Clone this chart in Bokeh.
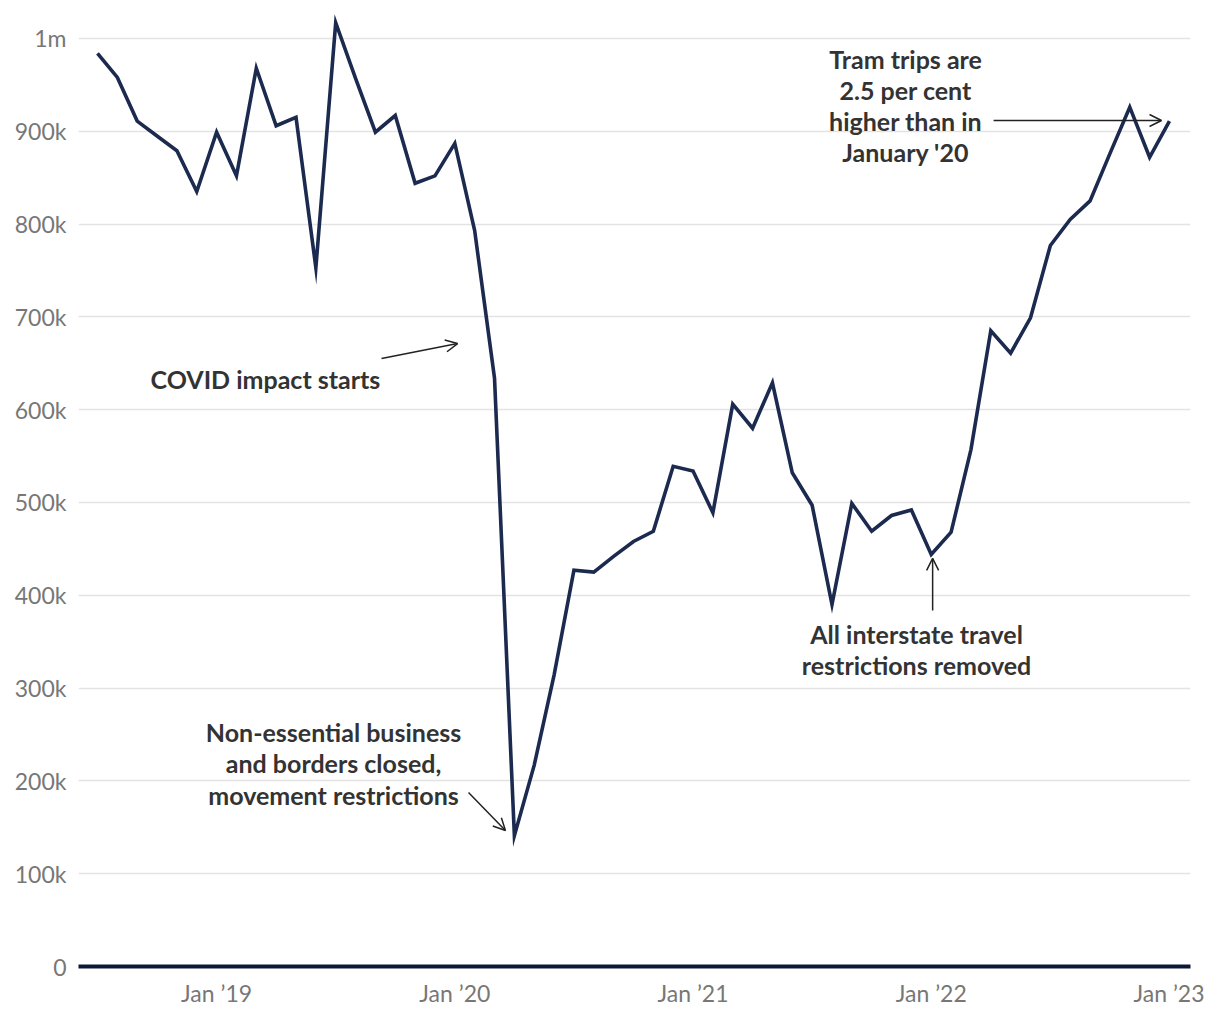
from bokeh.plotting import figure
from bokeh.models import FixedTicker, Arrow, OpenHead
from bokeh.core.properties import value
from bokeh.embed import file_html
from bokeh.resources import INLINE

# Monthly tram trips, Jul 2018 - Jan 2023
months = ["Jul 2018", "Aug 2018", "Sep 2018", "Oct 2018", "Nov 2018", "Dec 2018",
          "Jan 2019", "Feb 2019", "Mar 2019", "Apr 2019", "May 2019", "Jun 2019",
          "Jul 2019", "Aug 2019", "Sep 2019", "Oct 2019", "Nov 2019", "Dec 2019",
          "Jan 2020", "Feb 2020", "Mar 2020", "Apr 2020", "May 2020", "Jun 2020",
          "Jul 2020", "Aug 2020", "Sep 2020", "Oct 2020", "Nov 2020", "Dec 2020",
          "Jan 2021", "Feb 2021", "Mar 2021", "Apr 2021", "May 2021", "Jun 2021",
          "Jul 2021", "Aug 2021", "Sep 2021", "Oct 2021", "Nov 2021", "Dec 2021",
          "Jan 2022", "Feb 2022", "Mar 2022", "Apr 2022", "May 2022", "Jun 2022",
          "Jul 2022", "Aug 2022", "Sep 2022", "Oct 2022", "Nov 2022", "Dec 2022",
          "Jan 2023"]
trips = [984000, 958000, 911000, 895000, 879000, 835000,
         899000, 852000, 968000, 906000, 915000, 753000,
         1017000, 957000, 899000, 917000, 844000, 852000,
         887000, 793000, 634000, 141000, 217000, 314000,
         427000, 425000, 442000, 458000, 469000, 539000,
         534000, 489000, 606000, 580000, 629000, 532000,
         497000, 390000, 499000, 469000, 486000, 492000,
         444000, 468000, 557000, 685000, 661000, 699000,
         777000, 805000, 825000, 876000, 926000, 872000,
         911000]

x_tick_pos = [6, 18, 30, 42, 54]
x_tick_labels = ["Jan \u201919", "Jan \u201920", "Jan \u201921", "Jan \u201922", "Jan \u201923"]
y_ticks = [0, 100000, 200000, 300000, 400000, 500000, 600000, 700000, 800000, 900000, 1000000]
y_tick_labels = ["0", "100k", "200k", "300k", "400k", "500k", "600k", "700k", "800k", "900k", "1m"]

xs = list(range(len(months)))

p = figure(width=1204, height=1013, output_backend="svg", toolbar_location=None,
           x_range=(-0.957, 55.06), y_range=(0, 1030172),
           min_border_left=78, min_border_right=14, min_border_top=10, min_border_bottom=47)
p.outline_line_color = None
p.background_fill_color = "white"

p.line(xs, trips, line_color="#1b2a4e", line_width=3.6, line_join="miter")

# axes
p.xaxis.ticker = FixedTicker(ticks=x_tick_pos)
p.xaxis.major_label_overrides = {t: l for t, l in zip(x_tick_pos, x_tick_labels)}
p.yaxis.ticker = FixedTicker(ticks=y_ticks)
p.yaxis.major_label_overrides = {t: l for t, l in zip(y_ticks, y_tick_labels)}
for ax in (p.xaxis, p.yaxis):
    ax.major_tick_line_color = None
    ax.minor_tick_line_color = None
    ax.major_tick_out = 0
    ax.major_tick_in = 0
    ax.major_label_text_font = "Lato"
    ax.major_label_text_font_size = "23px"
    ax.major_label_text_color = "#777777"
p.yaxis.axis_line_color = None
p.yaxis.major_label_standoff = 12
p.xaxis.axis_line_color = "#0d1836"
p.xaxis.axis_line_width = 4
p.xaxis.major_label_standoff = 12

p.xgrid.grid_line_color = None
p.ygrid.ticker = FixedTicker(ticks=y_ticks[1:])
p.ygrid.grid_line_color = "#e3e3e3"
p.ygrid.grid_line_width = 1.5

# annotations
ann_font = value("Lato")
def label(x, y, txt):
    p.text(x=[x], y=[y], text=[txt], text_align="center", text_baseline="middle",
           text_font=ann_font, text_font_style="bold", text_font_size="25px",
           text_color="#333333")

label(8.46, 633600, "COVID impact starts")
label(11.89, 252200, "Non-essential business")
label(11.89, 218800, "and borders closed,")
label(11.89, 185300, "movement restrictions")
label(41.26, 357800, "All interstate travel")
label(41.26, 324400, "restrictions removed")
label(40.71, 978400, "Tram trips are")
label(40.71, 945000, "2.5 per cent")
label(40.71, 911600, "higher than in")
label(40.71, 878200, "January '20")

def arrow(x0, y0, x1, y1):
    p.add_layout(Arrow(end=OpenHead(size=12, line_width=1.5, line_color="#222222"),
                       x_start=x0, y_start=y0, x_end=x1, y_end=y1,
                       line_width=1.5, line_color="#222222"))

arrow(14.31, 655200, 18.14, 671300)
arrow(18.69, 187500, 20.55, 146600)
arrow(42.07, 383600, 42.07, 439700)
arrow(45.14, 911600, 53.6, 911600)

open("out.html", "w").write(file_html(p, INLINE))
